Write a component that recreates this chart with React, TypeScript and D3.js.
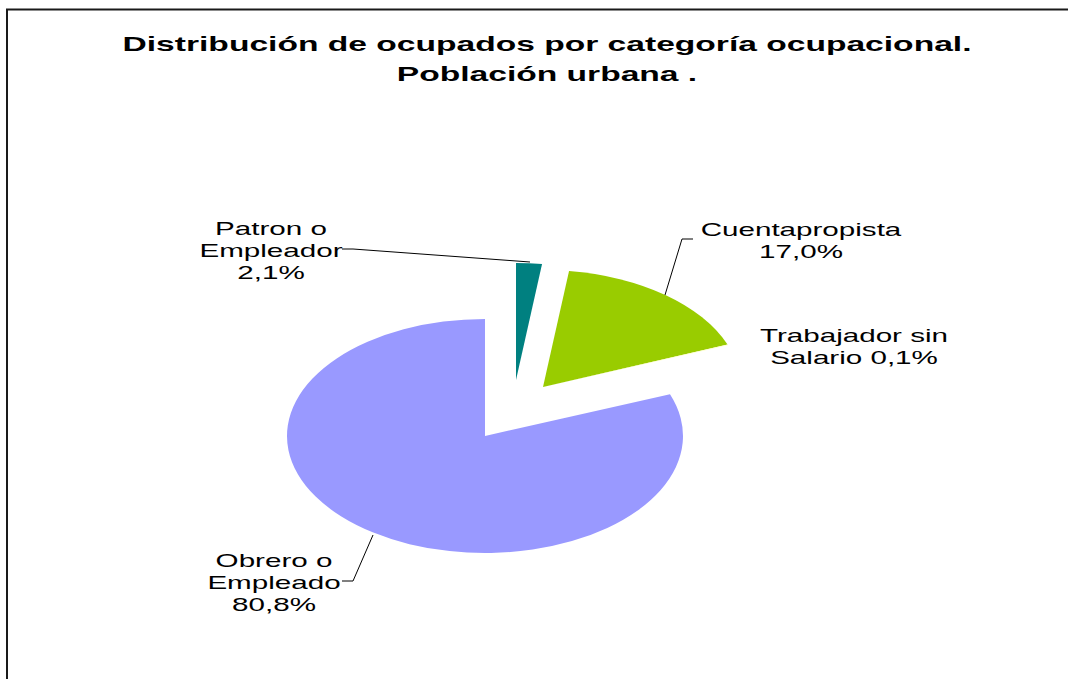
import React from "react";
import * as d3 from "d3";

const categories = ["Patron o Empleador", "Cuentapropista", "Trabajador sin Salario", "Obrero o Empleado"];
const values = [2.1, 17.0, 0.1, 80.8];
const labelLines = [
  ["Patron o", "Empleador", "2,1%"],
  ["Cuentapropista", "17,0%"],
  ["Trabajador sin", "Salario 0,1%"],
  ["Obrero o", "Empleado", "80,8%"],
];
const colors = ["#008080", "#99CC00", "#FFFFCC", "#9999FF"];
const titleLines = ["Distribución de ocupados por categoría ocupacional.", "Población urbana ."];

// layout
const W = 1068, H = 679;
const CX = 485, CY = 436, RX = 198, RY = 117;
const explode: [number, number][] = [[31, -56], [58, -49], [58, -49], [0, 0]];
const labelPos: [number, number][] = [[271, 235], [801, 236], [854, 342], [274, 567]];
const lineGap = 22;
const leaders: ([number, number][] | null)[] = [
  [[342, 249], [353, 249], [530, 262]],
  [[693, 239], [682, 239], [665, 295]],
  null,
  [[342, 581], [353, 581], [373, 535]],
];
const SX = 1.6;

export default function App() {
  const pie = d3.pie<number>().sort(null).startAngle(0).endAngle(2 * Math.PI)(values);
  const arc = d3.arc<d3.PieArcDatum<number>>().innerRadius(0).outerRadius(RX);
  const line = d3.line();
  return (
    <svg width={W} height={H} style={{ position: "fixed", left: 0, top: 0, background: "#fff" }}
      fontFamily="'Liberation Sans', Arial, sans-serif">
      <rect x={0} y={0} width={W} height={H} fill="#fff" />
      <rect x={7} y={9.5} width={1200} height={800} fill="none" stroke="#1a1a1a" strokeWidth={2} />
      {titleLines.map((t, i) => (
        <text key={i} transform={`translate(547,${51 + i * 30}) scale(1.6,1)`} textAnchor="middle"
          fontSize={21} fontWeight="bold" fill="#000">{t}</text>
      ))}
      {pie.map((d, i) => (
        <g key={categories[i]} transform={`translate(${CX + explode[i][0]},${CY + explode[i][1]}) scale(1,${RY / RX})`}>
          <path d={arc(d) || ""} fill={colors[i]} />
        </g>
      ))}
      {leaders.map((pts, i) => pts ? (
        <path key={i} d={line(pts) || ""} fill="none" stroke="#000" strokeWidth={1} />
      ) : null)}
      {labelLines.map((ls, i) => ls.map((t, j) => (
        <text key={i + "-" + j} transform={`translate(${labelPos[i][0]},${labelPos[i][1] + j * lineGap}) scale(${SX},1)`}
          textAnchor="middle" fontSize={18.5} fill="#000">{t}</text>
      )))}
    </svg>
  );
}
